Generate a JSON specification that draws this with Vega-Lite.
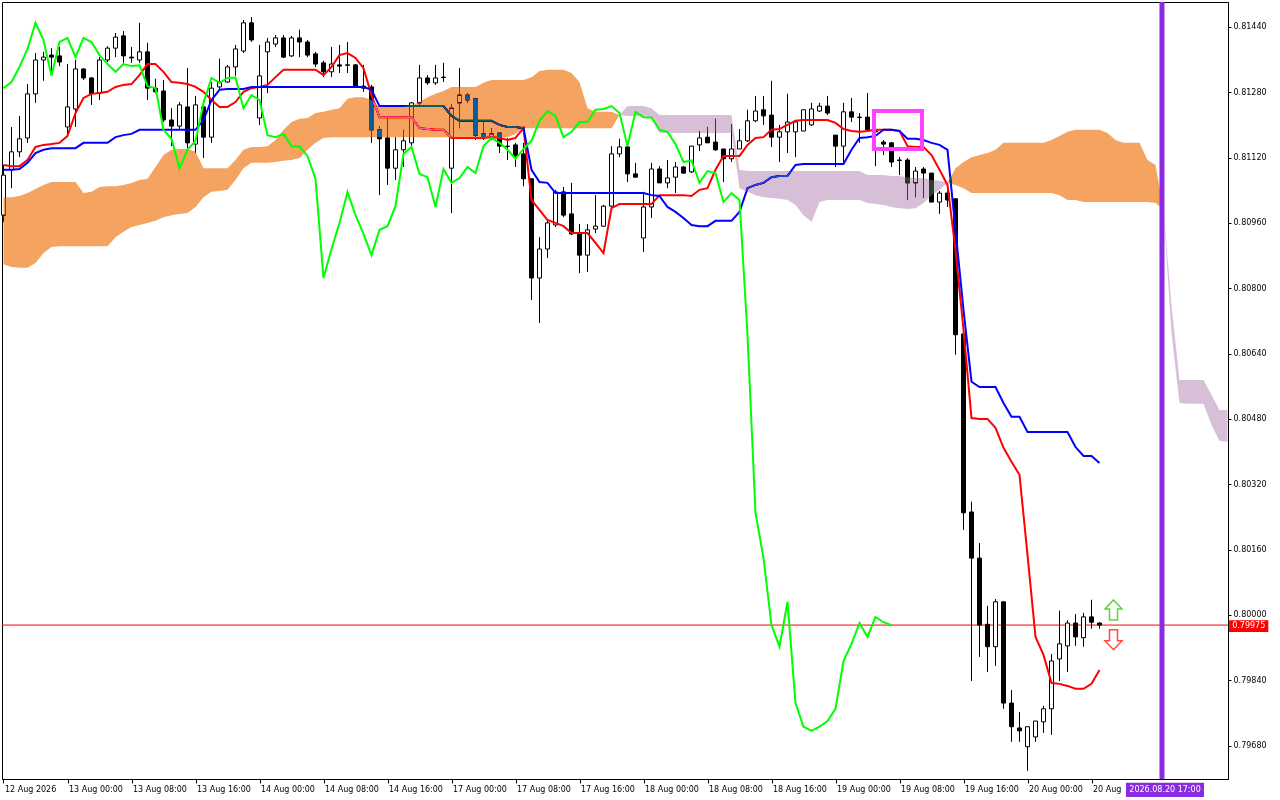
{
  "$schema": "https://vega.github.io/schema/vega-lite/v6.json",
  "width": 1226,
  "height": 777,
  "autosize": {"type": "none"},
  "padding": {"left": 2, "top": 2, "right": 52, "bottom": 21},
  "background": "white",
  "config": {
    "view": {"stroke": "black", "strokeWidth": 1, "fill": "white"},
    "axis": {
      "labelFont": "DejaVu Sans",
      "labelFontSize": 8,
      "labelColor": "black",
      "domainColor": "black",
      "tickColor": "black",
      "grid": false
    }
  },
  "datasets": {
    "bars": [
      {"t":0,"o":0.80979,"h":0.81102,"l":0.80962,"c":0.81077,"tk":0.81102,"kj":0.8109,"ch":0.8129},
      {"t":1,"o":0.8109,"h":0.81195,"l":0.81045,"c":0.81134,"tk":0.81099,"kj":0.8109,"ch":0.81305},
      {"t":2,"o":0.81134,"h":0.81222,"l":0.81121,"c":0.81166,"tk":0.81099,"kj":0.81092,"ch":0.81342},
      {"t":3,"o":0.81168,"h":0.813,"l":0.81156,"c":0.81276,"tk":0.81114,"kj":0.81107,"ch":0.81386},
      {"t":4,"o":0.81276,"h":0.81376,"l":0.81254,"c":0.81359,"tk":0.81146,"kj":0.81131,"ch":0.8145},
      {"t":5,"o":0.81359,"h":0.81379,"l":0.81308,"c":0.81366,"tk":0.81151,"kj":0.81139,"ch":0.81408},
      {"t":6,"o":0.81371,"h":0.81388,"l":0.81322,"c":0.81366,"tk":0.81153,"kj":0.81143,"ch":0.8132},
      {"t":7,"o":0.81369,"h":0.81391,"l":0.81344,"c":0.81354,"tk":0.81156,"kj":0.81143,"ch":0.81403},
      {"t":8,"o":0.81195,"h":0.81349,"l":0.8117,"c":0.81244,"tk":0.81173,"kj":0.81143,"ch":0.81413},
      {"t":9,"o":0.81239,"h":0.81359,"l":0.81195,"c":0.81337,"tk":0.81229,"kj":0.81143,"ch":0.81366},
      {"t":10,"o":0.81337,"h":0.81339,"l":0.8131,"c":0.81315,"tk":0.81266,"kj":0.81156,"ch":0.81413},
      {"t":11,"o":0.81315,"h":0.81317,"l":0.81249,"c":0.81276,"tk":0.81276,"kj":0.81156,"ch":0.81403},
      {"t":12,"o":0.81278,"h":0.81366,"l":0.81261,"c":0.81359,"tk":0.81278,"kj":0.81156,"ch":0.81371},
      {"t":13,"o":0.81359,"h":0.81393,"l":0.81354,"c":0.81388,"tk":0.81281,"kj":0.81156,"ch":0.81349},
      {"t":14,"o":0.81388,"h":0.81425,"l":0.81366,"c":0.81415,"tk":0.81293,"kj":0.8117,"ch":0.8133},
      {"t":15,"o":0.81418,"h":0.8143,"l":0.81352,"c":0.81369,"tk":0.81298,"kj":0.81175,"ch":0.81349},
      {"t":16,"o":0.81366,"h":0.81391,"l":0.81352,"c":0.81364,"tk":0.813,"kj":0.81178,"ch":0.81344},
      {"t":17,"o":0.81359,"h":0.8145,"l":0.81352,"c":0.81379,"tk":0.81322,"kj":0.81188,"ch":0.81346},
      {"t":18,"o":0.81379,"h":0.81401,"l":0.81261,"c":0.8129,"tk":0.81349,"kj":0.81188,"ch":0.81295},
      {"t":19,"o":0.8129,"h":0.81313,"l":0.81278,"c":0.81281,"tk":0.81349,"kj":0.81188,"ch":0.8129},
      {"t":20,"o":0.81283,"h":0.8131,"l":0.81207,"c":0.81212,"tk":0.8133,"kj":0.81188,"ch":0.81188},
      {"t":21,"o":0.81212,"h":0.81241,"l":0.81148,"c":0.81197,"tk":0.81305,"kj":0.81188,"ch":0.81166},
      {"t":22,"o":0.81197,"h":0.81256,"l":0.8119,"c":0.81249,"tk":0.81303,"kj":0.81188,"ch":0.81094},
      {"t":23,"o":0.81244,"h":0.81339,"l":0.81143,"c":0.81156,"tk":0.813,"kj":0.81188,"ch":0.81139},
      {"t":24,"o":0.81153,"h":0.81271,"l":0.81131,"c":0.81249,"tk":0.81293,"kj":0.81188,"ch":0.81161},
      {"t":25,"o":0.81244,"h":0.81261,"l":0.81119,"c":0.8117,"tk":0.81281,"kj":0.81212,"ch":0.81254},
      {"t":26,"o":0.8117,"h":0.81305,"l":0.81156,"c":0.8129,"tk":0.81261,"kj":0.81261,"ch":0.81315},
      {"t":27,"o":0.81293,"h":0.81362,"l":0.81286,"c":0.81305,"tk":0.81244,"kj":0.81286,"ch":0.81303},
      {"t":28,"o":0.81305,"h":0.81347,"l":0.81303,"c":0.81342,"tk":0.81244,"kj":0.81288,"ch":0.81315},
      {"t":29,"o":0.81342,"h":0.81396,"l":0.8132,"c":0.81386,"tk":0.81256,"kj":0.81288,"ch":0.81316},
      {"t":30,"o":0.81381,"h":0.81457,"l":0.81376,"c":0.8145,"tk":0.81281,"kj":0.81288,"ch":0.81241},
      {"t":31,"o":0.8145,"h":0.81464,"l":0.81403,"c":0.81408,"tk":0.8129,"kj":0.81293,"ch":0.81273},
      {"t":32,"o":0.81217,"h":0.81396,"l":0.812,"c":0.8132,"tk":0.81293,"kj":0.81293,"ch":0.81261},
      {"t":33,"o":0.81379,"h":0.81413,"l":0.81278,"c":0.81403,"tk":0.81298,"kj":0.81293,"ch":0.81175},
      {"t":34,"o":0.81398,"h":0.8142,"l":0.81391,"c":0.81413,"tk":0.81317,"kj":0.81293,"ch":0.8117},
      {"t":35,"o":0.81413,"h":0.8142,"l":0.81364,"c":0.81366,"tk":0.81335,"kj":0.81293,"ch":0.81178},
      {"t":36,"o":0.81369,"h":0.81418,"l":0.81366,"c":0.81413,"tk":0.81335,"kj":0.81293,"ch":0.81148},
      {"t":37,"o":0.81413,"h":0.81433,"l":0.81366,"c":0.81403,"tk":0.81335,"kj":0.81293,"ch":0.81147},
      {"t":38,"o":0.81403,"h":0.81408,"l":0.81366,"c":0.81371,"tk":0.81335,"kj":0.81293,"ch":0.81124},
      {"t":39,"o":0.81374,"h":0.81379,"l":0.81342,"c":0.81349,"tk":0.81335,"kj":0.81293,"ch":0.81068},
      {"t":40,"o":0.81352,"h":0.81357,"l":0.81317,"c":0.8133,"tk":0.81322,"kj":0.81293,"ch":0.80825},
      {"t":41,"o":0.8133,"h":0.81391,"l":0.81317,"c":0.81349,"tk":0.81342,"kj":0.81293,"ch":0.80896},
      {"t":42,"o":0.81347,"h":0.81396,"l":0.81327,"c":0.81344,"tk":0.81371,"kj":0.81293,"ch":0.8096},
      {"t":43,"o":0.81347,"h":0.81403,"l":0.81327,"c":0.81346,"tk":0.81376,"kj":0.81293,"ch":0.81036},
      {"t":44,"o":0.81347,"h":0.81349,"l":0.81293,"c":0.81295,"tk":0.81364,"kj":0.81293,"ch":0.80979},
      {"t":45,"o":0.81295,"h":0.81347,"l":0.81281,"c":0.8129,"tk":0.81339,"kj":0.81293,"ch":0.80933},
      {"t":46,"o":0.81293,"h":0.81298,"l":0.81156,"c":0.81188,"tk":0.81273,"kj":0.81286,"ch":0.80881},
      {"t":47,"o":0.81188,"h":0.81197,"l":0.81028,"c":0.81166,"tk":0.81219,"kj":0.81246,"ch":0.80943},
      {"t":48,"o":0.81168,"h":0.81217,"l":0.81053,"c":0.81094,"tk":0.81219,"kj":0.81246,"ch":0.80952},
      {"t":49,"o":0.81094,"h":0.8117,"l":0.81065,"c":0.81139,"tk":0.81219,"kj":0.81246,"ch":0.81001},
      {"t":50,"o":0.81139,"h":0.81188,"l":0.81097,"c":0.81161,"tk":0.81219,"kj":0.81246,"ch":0.81129},
      {"t":51,"o":0.81156,"h":0.81256,"l":0.81146,"c":0.81254,"tk":0.81219,"kj":0.81246,"ch":0.81146},
      {"t":52,"o":0.81254,"h":0.81347,"l":0.81249,"c":0.81315,"tk":0.81192,"kj":0.81246,"ch":0.8108},
      {"t":53,"o":0.81315,"h":0.81322,"l":0.81298,"c":0.81303,"tk":0.8119,"kj":0.81246,"ch":0.81072},
      {"t":54,"o":0.81303,"h":0.81347,"l":0.81298,"c":0.81315,"tk":0.81188,"kj":0.81246,"ch":0.80999},
      {"t":55,"o":0.81317,"h":0.81352,"l":0.81305,"c":0.81316,"tk":0.81188,"kj":0.81246,"ch":0.81092},
      {"t":56,"o":0.81094,"h":0.81251,"l":0.80984,"c":0.81241,"tk":0.81168,"kj":0.81222,"ch":0.81058},
      {"t":57,"o":0.81254,"h":0.81339,"l":0.81192,"c":0.81273,"tk":0.81168,"kj":0.8121,"ch":0.8107},
      {"t":58,"o":0.81273,"h":0.81278,"l":0.81254,"c":0.81261,"tk":0.81168,"kj":0.8121,"ch":0.81097},
      {"t":59,"o":0.81264,"h":0.81264,"l":0.81163,"c":0.81175,"tk":0.81168,"kj":0.8121,"ch":0.81082},
      {"t":60,"o":0.81178,"h":0.81212,"l":0.81163,"c":0.8117,"tk":0.81168,"kj":0.8121,"ch":0.81148},
      {"t":61,"o":0.8117,"h":0.81192,"l":0.81163,"c":0.81178,"tk":0.8117,"kj":0.8121,"ch":0.81168},
      {"t":62,"o":0.8118,"h":0.8118,"l":0.81131,"c":0.81148,"tk":0.81168,"kj":0.812,"ch":0.81156},
      {"t":63,"o":0.81148,"h":0.81168,"l":0.81114,"c":0.81147,"tk":0.81163,"kj":0.81195,"ch":0.81139},
      {"t":64,"o":0.81151,"h":0.81156,"l":0.81097,"c":0.81124,"tk":0.81168,"kj":0.81195,"ch":0.81117},
      {"t":65,"o":0.81129,"h":0.81156,"l":0.8105,"c":0.81068,"tk":0.81192,"kj":0.81192,"ch":0.81141},
      {"t":66,"o":0.81068,"h":0.81068,"l":0.80771,"c":0.80825,"tk":0.81016,"kj":0.8109,"ch":0.81161},
      {"t":67,"o":0.80825,"h":0.80925,"l":0.80715,"c":0.80896,"tk":0.80992,"kj":0.8106,"ch":0.8121},
      {"t":68,"o":0.80896,"h":0.8097,"l":0.80874,"c":0.8096,"tk":0.80967,"kj":0.81058,"ch":0.81234},
      {"t":69,"o":0.80955,"h":0.81041,"l":0.8095,"c":0.81036,"tk":0.8096,"kj":0.81033,"ch":0.81222},
      {"t":70,"o":0.81036,"h":0.81048,"l":0.80974,"c":0.80979,"tk":0.80952,"kj":0.81033,"ch":0.8117},
      {"t":71,"o":0.80982,"h":0.81058,"l":0.8093,"c":0.80933,"tk":0.80935,"kj":0.81033,"ch":0.81183},
      {"t":72,"o":0.80935,"h":0.80957,"l":0.80837,"c":0.80881,"tk":0.80935,"kj":0.81033,"ch":0.81207},
      {"t":73,"o":0.80881,"h":0.80957,"l":0.8084,"c":0.80943,"tk":0.80935,"kj":0.81033,"ch":0.81207},
      {"t":74,"o":0.80945,"h":0.81028,"l":0.80935,"c":0.80952,"tk":0.80911,"kj":0.81033,"ch":0.81237},
      {"t":75,"o":0.80952,"h":0.81004,"l":0.8095,"c":0.81001,"tk":0.80886,"kj":0.81033,"ch":0.81239},
      {"t":76,"o":0.81001,"h":0.81148,"l":0.80999,"c":0.81129,"tk":0.80996,"kj":0.81033,"ch":0.81246},
      {"t":77,"o":0.81129,"h":0.81166,"l":0.81121,"c":0.81146,"tk":0.81006,"kj":0.81033,"ch":0.81229},
      {"t":78,"o":0.81146,"h":0.81148,"l":0.8106,"c":0.8108,"tk":0.81006,"kj":0.81033,"ch":0.81148},
      {"t":79,"o":0.8108,"h":0.81107,"l":0.81072,"c":0.81072,"tk":0.81006,"kj":0.81033,"ch":0.81232},
      {"t":80,"o":0.80923,"h":0.81036,"l":0.80889,"c":0.80999,"tk":0.81006,"kj":0.81033,"ch":0.81219},
      {"t":81,"o":0.80999,"h":0.81107,"l":0.80972,"c":0.81092,"tk":0.81006,"kj":0.81028,"ch":0.81218},
      {"t":82,"o":0.81092,"h":0.81099,"l":0.81058,"c":0.81058,"tk":0.81028,"kj":0.81026,"ch":0.81188},
      {"t":83,"o":0.81058,"h":0.81114,"l":0.81045,"c":0.8107,"tk":0.81028,"kj":0.80999,"ch":0.81183},
      {"t":84,"o":0.81072,"h":0.81109,"l":0.81033,"c":0.81097,"tk":0.81028,"kj":0.80987,"ch":0.81153},
      {"t":85,"o":0.81097,"h":0.81099,"l":0.8108,"c":0.81082,"tk":0.81028,"kj":0.80972,"ch":0.81109},
      {"t":86,"o":0.81085,"h":0.81148,"l":0.81082,"c":0.81148,"tk":0.81026,"kj":0.80955,"ch":0.81113},
      {"t":87,"o":0.81151,"h":0.81185,"l":0.81136,"c":0.81168,"tk":0.81041,"kj":0.80952,"ch":0.81058},
      {"t":88,"o":0.8117,"h":0.81195,"l":0.81156,"c":0.81156,"tk":0.81045,"kj":0.80952,"ch":0.81087},
      {"t":89,"o":0.81158,"h":0.81215,"l":0.81136,"c":0.81139,"tk":0.8109,"kj":0.80965,"ch":0.81082},
      {"t":90,"o":0.81141,"h":0.81141,"l":0.8106,"c":0.81117,"tk":0.81124,"kj":0.80965,"ch":0.81011},
      {"t":91,"o":0.81117,"h":0.81202,"l":0.81109,"c":0.81141,"tk":0.81124,"kj":0.80965,"ch":0.81033},
      {"t":92,"o":0.81141,"h":0.8119,"l":0.81141,"c":0.81161,"tk":0.81124,"kj":0.80987,"ch":0.81016},
      {"t":93,"o":0.81161,"h":0.81237,"l":0.81158,"c":0.8121,"tk":0.81151,"kj":0.81045,"ch":0.80686},
      {"t":94,"o":0.8121,"h":0.81271,"l":0.81207,"c":0.81234,"tk":0.81168,"kj":0.81053,"ch":0.8025},
      {"t":95,"o":0.81237,"h":0.81271,"l":0.812,"c":0.81222,"tk":0.8117,"kj":0.81058,"ch":0.80139},
      {"t":96,"o":0.81224,"h":0.81308,"l":0.81146,"c":0.8117,"tk":0.81188,"kj":0.81072,"ch":0.79975},
      {"t":97,"o":0.8117,"h":0.812,"l":0.81109,"c":0.81183,"tk":0.8119,"kj":0.81075,"ch":0.79922},
      {"t":98,"o":0.81183,"h":0.81276,"l":0.81131,"c":0.81207,"tk":0.812,"kj":0.81075,"ch":0.80032},
      {"t":99,"o":0.81183,"h":0.81212,"l":0.81121,"c":0.81207,"tk":0.8121,"kj":0.81102,"ch":0.79784},
      {"t":100,"o":0.81185,"h":0.81237,"l":0.81185,"c":0.81237,"tk":0.81212,"kj":0.81104,"ch":0.79726},
      {"t":101,"o":0.812,"h":0.81254,"l":0.81197,"c":0.81239,"tk":0.81212,"kj":0.81104,"ch":0.79716},
      {"t":102,"o":0.81234,"h":0.81254,"l":0.81232,"c":0.81246,"tk":0.81212,"kj":0.81104,"ch":0.79726},
      {"t":103,"o":0.81246,"h":0.81271,"l":0.81224,"c":0.81229,"tk":0.81212,"kj":0.81104,"ch":0.7974},
      {"t":104,"o":0.81175,"h":0.81175,"l":0.81097,"c":0.81148,"tk":0.81205,"kj":0.81104,"ch":0.7977},
      {"t":105,"o":0.81148,"h":0.81254,"l":0.81102,"c":0.81232,"tk":0.8119,"kj":0.81104,"ch":0.79887},
      {"t":106,"o":0.81232,"h":0.81266,"l":0.81207,"c":0.81219,"tk":0.81185,"kj":0.81139,"ch":0.79929},
      {"t":107,"o":0.81219,"h":0.81229,"l":0.81156,"c":0.81218,"tk":0.81183,"kj":0.81168,"ch":0.7998},
      {"t":108,"o":0.81219,"h":0.81278,"l":0.81188,"c":0.81188,"tk":0.81185,"kj":0.8117,"ch":0.79946},
      {"t":109,"o":0.81185,"h":0.81188,"l":0.81099,"c":0.81183,"tk":0.81188,"kj":0.81173,"ch":0.79995},
      {"t":110,"o":0.81158,"h":0.81163,"l":0.81126,"c":0.81153,"tk":0.81188,"kj":0.81188,"ch":0.79982},
      {"t":111,"o":0.81156,"h":0.81158,"l":0.81097,"c":0.81109,"tk":0.81188,"kj":0.81188,"ch":0.79975},
      {"t":112,"o":0.81114,"h":0.81121,"l":0.81077,"c":0.81113,"tk":0.81185,"kj":0.81185},
      {"t":113,"o":0.81114,"h":0.81119,"l":0.81016,"c":0.81058,"tk":0.81148,"kj":0.81166},
      {"t":114,"o":0.81058,"h":0.81097,"l":0.81023,"c":0.81087,"tk":0.81146,"kj":0.81166},
      {"t":115,"o":0.81092,"h":0.81097,"l":0.81021,"c":0.81082,"tk":0.81146,"kj":0.81163},
      {"t":116,"o":0.81082,"h":0.81082,"l":0.81011,"c":0.81011,"tk":0.81126,"kj":0.81156},
      {"t":117,"o":0.81011,"h":0.81038,"l":0.80982,"c":0.81033,"tk":0.8109,"kj":0.81151},
      {"t":118,"o":0.81033,"h":0.81041,"l":0.80999,"c":0.81016,"tk":0.81053,"kj":0.81139},
      {"t":119,"o":0.81019,"h":0.81019,"l":0.80637,"c":0.80686,"tk":0.80894,"kj":0.80943},
      {"t":120,"o":0.80688,"h":0.80688,"l":0.80208,"c":0.8025,"tk":0.80698,"kj":0.80747},
      {"t":121,"o":0.80252,"h":0.80277,"l":0.79838,"c":0.80139,"tk":0.80482,"kj":0.80571},
      {"t":122,"o":0.80139,"h":0.80176,"l":0.79897,"c":0.79975,"tk":0.8048,"kj":0.80558},
      {"t":123,"o":0.79977,"h":0.80022,"l":0.7986,"c":0.79922,"tk":0.8048,"kj":0.80558},
      {"t":124,"o":0.79922,"h":0.80039,"l":0.79875,"c":0.80032,"tk":0.80458,"kj":0.80558},
      {"t":125,"o":0.80032,"h":0.80032,"l":0.7977,"c":0.79784,"tk":0.80409,"kj":0.80519},
      {"t":126,"o":0.79784,"h":0.79816,"l":0.79689,"c":0.79726,"tk":0.80375,"kj":0.80485},
      {"t":127,"o":0.79723,"h":0.79762,"l":0.79689,"c":0.79716,"tk":0.80343,"kj":0.80485},
      {"t":128,"o":0.79677,"h":0.79726,"l":0.79618,"c":0.79726,"tk":0.80147,"kj":0.80448},
      {"t":129,"o":0.79701,"h":0.7974,"l":0.79689,"c":0.7974,"tk":0.79946,"kj":0.80448},
      {"t":130,"o":0.79738,"h":0.79777,"l":0.79711,"c":0.7977,"tk":0.79902,"kj":0.80448},
      {"t":131,"o":0.7977,"h":0.79904,"l":0.79706,"c":0.79887,"tk":0.79833,"kj":0.80448},
      {"t":132,"o":0.79892,"h":0.8001,"l":0.79838,"c":0.79929,"tk":0.79831,"kj":0.80448},
      {"t":133,"o":0.79924,"h":0.79987,"l":0.7986,"c":0.7998,"tk":0.79826,"kj":0.80448},
      {"t":134,"o":0.7998,"h":0.80002,"l":0.79924,"c":0.79946,"tk":0.79819,"kj":0.80411},
      {"t":135,"o":0.79944,"h":0.80005,"l":0.79922,"c":0.79995,"tk":0.79819,"kj":0.80389},
      {"t":136,"o":0.79995,"h":0.80037,"l":0.79966,"c":0.79982,"tk":0.79831,"kj":0.80389},
      {"t":137,"o":0.7998,"h":0.79982,"l":0.79966,"c":0.79975,"tk":0.79865,"kj":0.80372}
    ],
    "cloud": [
      {"t":0,"a":0.81023,"b":0.80859,"seg":"u1"},
      {"t":1,"a":0.81023,"b":0.80852,"seg":"u1"},
      {"t":2,"a":0.81026,"b":0.8085,"seg":"u1"},
      {"t":3,"a":0.81033,"b":0.8085,"seg":"u1"},
      {"t":4,"a":0.81043,"b":0.80862,"seg":"u1"},
      {"t":5,"a":0.81053,"b":0.80886,"seg":"u1"},
      {"t":6,"a":0.8106,"b":0.80901,"seg":"u1"},
      {"t":7,"a":0.8106,"b":0.80903,"seg":"u1"},
      {"t":8,"a":0.8106,"b":0.80903,"seg":"u1"},
      {"t":9,"a":0.8106,"b":0.80903,"seg":"u1"},
      {"t":10,"a":0.81033,"b":0.80903,"seg":"u1"},
      {"t":11,"a":0.81036,"b":0.80903,"seg":"u1"},
      {"t":12,"a":0.81048,"b":0.80903,"seg":"u1"},
      {"t":13,"a":0.8105,"b":0.80903,"seg":"u1"},
      {"t":14,"a":0.8105,"b":0.80925,"seg":"u1"},
      {"t":15,"a":0.81053,"b":0.80938,"seg":"u1"},
      {"t":16,"a":0.81058,"b":0.8095,"seg":"u1"},
      {"t":17,"a":0.81065,"b":0.80955,"seg":"u1"},
      {"t":18,"a":0.81068,"b":0.8096,"seg":"u1"},
      {"t":19,"a":0.81097,"b":0.80965,"seg":"u1"},
      {"t":20,"a":0.81126,"b":0.80974,"seg":"u1"},
      {"t":21,"a":0.81139,"b":0.80979,"seg":"u1"},
      {"t":22,"a":0.81141,"b":0.80982,"seg":"u1"},
      {"t":23,"a":0.81141,"b":0.80984,"seg":"u1"},
      {"t":24,"a":0.81134,"b":0.80999,"seg":"u1"},
      {"t":25,"a":0.81094,"b":0.81023,"seg":"u1"},
      {"t":26,"a":0.81094,"b":0.81036,"seg":"u1"},
      {"t":27,"a":0.81094,"b":0.81038,"seg":"u1"},
      {"t":28,"a":0.81094,"b":0.81041,"seg":"u1"},
      {"t":29,"a":0.81114,"b":0.81065,"seg":"u1"},
      {"t":30,"a":0.81139,"b":0.81094,"seg":"u1"},
      {"t":31,"a":0.81146,"b":0.81107,"seg":"u1"},
      {"t":32,"a":0.81146,"b":0.81107,"seg":"u1"},
      {"t":33,"a":0.81148,"b":0.81107,"seg":"u1"},
      {"t":34,"a":0.81163,"b":0.81109,"seg":"u1"},
      {"t":35,"a":0.81188,"b":0.81112,"seg":"u1"},
      {"t":36,"a":0.81207,"b":0.81114,"seg":"u1"},
      {"t":37,"a":0.81215,"b":0.81119,"seg":"u1"},
      {"t":38,"a":0.81217,"b":0.81139,"seg":"u1"},
      {"t":39,"a":0.81229,"b":0.81156,"seg":"u1"},
      {"t":40,"a":0.81232,"b":0.81168,"seg":"u1"},
      {"t":41,"a":0.81237,"b":0.8117,"seg":"u1"},
      {"t":42,"a":0.81241,"b":0.8117,"seg":"u1"},
      {"t":43,"a":0.81264,"b":0.8117,"seg":"u1"},
      {"t":44,"a":0.81268,"b":0.8117,"seg":"u1"},
      {"t":45,"a":0.81268,"b":0.8117,"seg":"u1"},
      {"t":46,"a":0.81261,"b":0.8117,"seg":"u1"},
      {"t":47,"a":0.81244,"b":0.8117,"seg":"u1"},
      {"t":48,"a":0.81244,"b":0.8117,"seg":"u1"},
      {"t":49,"a":0.81244,"b":0.8117,"seg":"u1"},
      {"t":50,"a":0.81244,"b":0.8117,"seg":"u1"},
      {"t":51,"a":0.81249,"b":0.8117,"seg":"u1"},
      {"t":52,"a":0.81256,"b":0.8117,"seg":"u1"},
      {"t":53,"a":0.81268,"b":0.8117,"seg":"u1"},
      {"t":54,"a":0.81276,"b":0.8117,"seg":"u1"},
      {"t":55,"a":0.81283,"b":0.8117,"seg":"u1"},
      {"t":56,"a":0.81293,"b":0.8117,"seg":"u1"},
      {"t":57,"a":0.81293,"b":0.8117,"seg":"u1"},
      {"t":58,"a":0.81293,"b":0.8117,"seg":"u1"},
      {"t":59,"a":0.81293,"b":0.8117,"seg":"u1"},
      {"t":60,"a":0.81303,"b":0.8117,"seg":"u1"},
      {"t":61,"a":0.8131,"b":0.8117,"seg":"u1"},
      {"t":62,"a":0.8131,"b":0.8117,"seg":"u1"},
      {"t":63,"a":0.8131,"b":0.8117,"seg":"u1"},
      {"t":64,"a":0.8131,"b":0.81178,"seg":"u1"},
      {"t":65,"a":0.8131,"b":0.81192,"seg":"u1"},
      {"t":66,"a":0.81317,"b":0.81192,"seg":"u1"},
      {"t":67,"a":0.81332,"b":0.81192,"seg":"u1"},
      {"t":68,"a":0.81335,"b":0.81192,"seg":"u1"},
      {"t":69,"a":0.81335,"b":0.81192,"seg":"u1"},
      {"t":70,"a":0.81335,"b":0.81192,"seg":"u1"},
      {"t":71,"a":0.81327,"b":0.81192,"seg":"u1"},
      {"t":72,"a":0.81305,"b":0.81192,"seg":"u1"},
      {"t":73,"a":0.81241,"b":0.81192,"seg":"u1"},
      {"t":74,"a":0.81232,"b":0.81192,"seg":"u1"},
      {"t":75,"a":0.81232,"b":0.81192,"seg":"u1"},
      {"t":76,"a":0.81232,"b":0.81192,"seg":"u1"},
      {"t":77,"a":0.81224,"b":0.81224,"seg":"u1"},
      {"t":77,"a":0.81224,"b":0.81224,"seg":"d1"},
      {"t":78,"a":0.81222,"b":0.81246,"seg":"d1"},
      {"t":79,"a":0.81222,"b":0.81246,"seg":"d1"},
      {"t":80,"a":0.81222,"b":0.81246,"seg":"d1"},
      {"t":81,"a":0.81219,"b":0.81241,"seg":"d1"},
      {"t":82,"a":0.8118,"b":0.81224,"seg":"d1"},
      {"t":83,"a":0.8118,"b":0.81224,"seg":"d1"},
      {"t":84,"a":0.8118,"b":0.81224,"seg":"d1"},
      {"t":85,"a":0.8118,"b":0.81224,"seg":"d1"},
      {"t":86,"a":0.8118,"b":0.81224,"seg":"d1"},
      {"t":87,"a":0.8118,"b":0.81224,"seg":"d1"},
      {"t":88,"a":0.8118,"b":0.81224,"seg":"d1"},
      {"t":89,"a":0.8118,"b":0.81224,"seg":"d1"},
      {"t":90,"a":0.8118,"b":0.81224,"seg":"d1"},
      {"t":91,"a":0.8118,"b":0.81224,"seg":"d1"},
      {"t":92,"a":0.81045,"b":0.8109,"seg":"d1"},
      {"t":93,"a":0.81036,"b":0.81087,"seg":"d1"},
      {"t":94,"a":0.81028,"b":0.81087,"seg":"d1"},
      {"t":95,"a":0.81023,"b":0.81087,"seg":"d1"},
      {"t":96,"a":0.81021,"b":0.81087,"seg":"d1"},
      {"t":97,"a":0.81019,"b":0.81087,"seg":"d1"},
      {"t":98,"a":0.81016,"b":0.81087,"seg":"d1"},
      {"t":99,"a":0.81004,"b":0.81087,"seg":"d1"},
      {"t":100,"a":0.80979,"b":0.81087,"seg":"d1"},
      {"t":101,"a":0.80962,"b":0.81087,"seg":"d1"},
      {"t":102,"a":0.81011,"b":0.81087,"seg":"d1"},
      {"t":103,"a":0.81016,"b":0.81087,"seg":"d1"},
      {"t":104,"a":0.81016,"b":0.81087,"seg":"d1"},
      {"t":105,"a":0.81016,"b":0.81087,"seg":"d1"},
      {"t":106,"a":0.81016,"b":0.81087,"seg":"d1"},
      {"t":107,"a":0.81016,"b":0.81087,"seg":"d1"},
      {"t":108,"a":0.81009,"b":0.81077,"seg":"d1"},
      {"t":109,"a":0.81006,"b":0.81077,"seg":"d1"},
      {"t":110,"a":0.81004,"b":0.81077,"seg":"d1"},
      {"t":111,"a":0.80999,"b":0.81075,"seg":"d1"},
      {"t":112,"a":0.80996,"b":0.81075,"seg":"d1"},
      {"t":113,"a":0.80994,"b":0.81072,"seg":"d1"},
      {"t":114,"a":0.80996,"b":0.8107,"seg":"d1"},
      {"t":115,"a":0.81009,"b":0.8107,"seg":"d1"},
      {"t":116,"a":0.81028,"b":0.81065,"seg":"d1"},
      {"t":117,"a":0.81041,"b":0.81063,"seg":"d1"},
      {"t":118,"a":0.81058,"b":0.81058,"seg":"d1"},
      {"t":118,"a":0.81058,"b":0.81058,"seg":"u2"},
      {"t":119,"a":0.81094,"b":0.81053,"seg":"u2"},
      {"t":120,"a":0.81109,"b":0.81045,"seg":"u2"},
      {"t":121,"a":0.81121,"b":0.81033,"seg":"u2"},
      {"t":122,"a":0.81126,"b":0.81033,"seg":"u2"},
      {"t":123,"a":0.81131,"b":0.81033,"seg":"u2"},
      {"t":124,"a":0.81139,"b":0.81033,"seg":"u2"},
      {"t":125,"a":0.81156,"b":0.81033,"seg":"u2"},
      {"t":126,"a":0.81156,"b":0.81033,"seg":"u2"},
      {"t":127,"a":0.81156,"b":0.81033,"seg":"u2"},
      {"t":128,"a":0.81156,"b":0.81033,"seg":"u2"},
      {"t":129,"a":0.81156,"b":0.81033,"seg":"u2"},
      {"t":130,"a":0.81156,"b":0.81033,"seg":"u2"},
      {"t":131,"a":0.81163,"b":0.81033,"seg":"u2"},
      {"t":132,"a":0.81173,"b":0.81028,"seg":"u2"},
      {"t":133,"a":0.81183,"b":0.81016,"seg":"u2"},
      {"t":134,"a":0.81188,"b":0.81016,"seg":"u2"},
      {"t":135,"a":0.81188,"b":0.81011,"seg":"u2"},
      {"t":136,"a":0.81188,"b":0.81011,"seg":"u2"},
      {"t":137,"a":0.81188,"b":0.81011,"seg":"u2"},
      {"t":138,"a":0.8118,"b":0.81011,"seg":"u2"},
      {"t":139,"a":0.81163,"b":0.81011,"seg":"u2"},
      {"t":140,"a":0.81156,"b":0.81011,"seg":"u2"},
      {"t":141,"a":0.81156,"b":0.81011,"seg":"u2"},
      {"t":142,"a":0.81156,"b":0.81011,"seg":"u2"},
      {"t":143,"a":0.81114,"b":0.81011,"seg":"u2"},
      {"t":144,"a":0.81102,"b":0.81009,"seg":"u2"},
      {"t":145,"a":0.80992,"b":0.80992,"seg":"u2"},
      {"t":145,"a":0.80992,"b":0.80992,"seg":"d2"},
      {"t":146,"a":0.8069,"b":0.80759,"seg":"d2"},
      {"t":147,"a":0.80519,"b":0.80575,"seg":"d2"},
      {"t":148,"a":0.80517,"b":0.80575,"seg":"d2"},
      {"t":149,"a":0.80517,"b":0.80575,"seg":"d2"},
      {"t":150,"a":0.80517,"b":0.80575,"seg":"d2"},
      {"t":151,"a":0.80465,"b":0.80539,"seg":"d2"},
      {"t":152,"a":0.80426,"b":0.80502,"seg":"d2"},
      {"t":153,"a":0.80424,"b":0.80502,"seg":"d2"}
    ],
    "bid": [{"price": 0.79975}],
    "box": [{"t1": 108.81, "t2": 114.81, "p1": 0.81234, "p2": 0.81141}],
    "vline": [{"t": 144.81}],
    "arrows": [
      {"t": 138.75, "price": 0.80012, "dir": "up"},
      {"t": 138.75, "price": 0.79939, "dir": "down"}
    ],
    "tags": [
      {"kind": "bid", "t1": 153.2, "t2": 158.1, "p1": 0.79987, "p2": 0.79958, "tx": 155.65, "py": 0.79972, "label": "0.79975"},
      {"kind": "time", "t1": 140.31, "t2": 150.06, "p1": 0.79589, "p2": 0.79554, "tx": 145.19, "py": 0.79571, "label": "2026.08.20 17:00"}
    ]
  },
  "layer": [
    {
      "data": {"name": "bid"},
      "mark": {"type": "rule", "color": "#FF0000", "strokeWidth": 1},
      "encoding": {"y": {"field": "price", "type": "quantitative", "title": null}}
    },
    {
      "data": {"name": "bars"},
      "mark": {"type": "rule", "color": "black", "strokeWidth": 1},
      "encoding": {
        "x": {
          "field": "t",
          "type": "quantitative",
          "scale": {"domain": [-0.1875, 153.0625], "nice": false, "zero": false, "padding": 0},
          "axis": {
            "title": null,
            "orient": "bottom",
            "values": [0, 8, 16, 24, 32, 40, 48, 56, 64, 72, 80, 88, 96, 104, 112, 120, 128, 136],
            "labelExpr": "['12 Aug 2026','13 Aug 00:00','13 Aug 08:00','13 Aug 16:00','14 Aug 00:00','14 Aug 08:00','14 Aug 16:00','17 Aug 00:00','17 Aug 08:00','17 Aug 16:00','18 Aug 00:00','18 Aug 08:00','18 Aug 16:00','19 Aug 00:00','19 Aug 08:00','19 Aug 16:00','20 Aug 00:00','20 Aug'][round(datum.value / 8)]",
            "labelAlign": "left",
            "labelBaseline": "top",
            "labelPadding": 2,
            "labelOffset": 1,
            "tickSize": 4,
            "labelOverlap": false,
            "labelFlush": false,
            "labelBound": false
          }
        },
        "y": {
          "field": "l",
          "type": "quantitative",
          "scale": {"domain": [0.79598, 0.81501], "nice": false, "zero": false, "padding": 0},
          "axis": {
            "title": null,
            "orient": "right",
            "values": [0.7968, 0.7976, 0.7984, 0.7992, 0.8, 0.8008, 0.8016, 0.8024, 0.8032, 0.804, 0.8048, 0.8056, 0.8064, 0.8072, 0.808, 0.8088, 0.8096, 0.8104, 0.8112, 0.812, 0.8128, 0.8136, 0.8144],
            "format": ".5f",
            "tickSize": 3,
            "labelPadding": 2,
            "labelOverlap": false
          }
        },
        "y2": {"field": "h"}
      }
    },
    {
      "data": {"name": "bars"},
      "mark": {"type": "bar", "width": 4, "stroke": "black", "strokeWidth": 1},
      "encoding": {
        "x": {"field": "t", "type": "quantitative"},
        "y": {"field": "o", "type": "quantitative"},
        "y2": {"field": "c"},
        "fill": {"condition": {"test": "datum.c >= datum.o", "value": "white"}, "value": "black"}
      }
    },
    {
      "data": {"name": "bars"},
      "mark": {"type": "line", "color": "#FF0000", "strokeWidth": 2},
      "encoding": {
        "x": {"field": "t", "type": "quantitative"},
        "y": {"field": "tk", "type": "quantitative"}
      }
    },
    {
      "data": {"name": "bars"},
      "mark": {"type": "line", "color": "#0000FF", "strokeWidth": 2},
      "encoding": {
        "x": {"field": "t", "type": "quantitative"},
        "y": {"field": "kj", "type": "quantitative"}
      }
    },
    {
      "data": {"name": "cloud"},
      "mark": {"type": "area", "blend": "difference", "opacity": 1},
      "encoding": {
        "x": {"field": "t", "type": "quantitative"},
        "y": {"field": "a", "type": "quantitative"},
        "y2": {"field": "b"},
        "color": {
          "field": "seg",
          "type": "nominal",
          "scale": {"domain": ["u1", "d1", "u2", "d2"], "range": ["#0B5B9F", "#274027", "#0B5B9F", "#274027"]},
          "legend": null
        }
      }
    },
    {
      "data": {"name": "bars"},
      "mark": {"type": "line", "color": "#00FF00", "strokeWidth": 2},
      "encoding": {
        "x": {"field": "t", "type": "quantitative"},
        "y": {"field": "ch", "type": "quantitative"}
      }
    },
    {
      "data": {"name": "box"},
      "mark": {"type": "rect", "filled": false, "stroke": "#FF40FF", "strokeWidth": 4},
      "encoding": {
        "x": {"field": "t1", "type": "quantitative"},
        "x2": {"field": "t2"},
        "y": {"field": "p1", "type": "quantitative"},
        "y2": {"field": "p2"}
      }
    },
    {
      "data": {"name": "vline"},
      "mark": {"type": "rule", "color": "#8A2BE2", "strokeWidth": 5},
      "encoding": {"x": {"field": "t", "type": "quantitative"}}
    },
    {
      "data": {"name": "arrows"},
      "mark": {"type": "point", "filled": true, "fill": "white", "strokeWidth": 1.5, "size": 400, "opacity": 1},
      "encoding": {
        "x": {"field": "t", "type": "quantitative"},
        "y": {"field": "price", "type": "quantitative"},
        "shape": {
          "field": "dir",
          "type": "nominal",
          "scale": {
            "domain": ["up", "down"],
            "range": [
              "M0,-1L0.85,-0.1L0.4,-0.1L0.4,1L-0.4,1L-0.4,-0.1L-0.85,-0.1Z",
              "M0,1L0.85,0.1L0.4,0.1L0.4,-1L-0.4,-1L-0.4,0.1L-0.85,0.1Z"
            ]
          },
          "legend": null
        },
        "stroke": {
          "field": "dir",
          "type": "nominal",
          "scale": {"domain": ["up", "down"], "range": ["#5CD63A", "#FF4A3D"]},
          "legend": null
        }
      }
    },
    {
      "data": {"name": "tags"},
      "mark": {"type": "rect"},
      "encoding": {
        "x": {"field": "t1", "type": "quantitative"},
        "x2": {"field": "t2"},
        "y": {"field": "p1", "type": "quantitative"},
        "y2": {"field": "p2"},
        "fill": {
          "field": "kind",
          "type": "nominal",
          "scale": {"domain": ["bid", "time"], "range": ["#FF0000", "#8A2BE2"]},
          "legend": null
        }
      }
    },
    {
      "data": {"name": "tags"},
      "mark": {"type": "text", "color": "white", "font": "DejaVu Sans", "fontSize": 8, "align": "center", "baseline": "middle"},
      "encoding": {
        "x": {"field": "tx", "type": "quantitative"},
        "y": {"field": "py", "type": "quantitative"},
        "text": {"field": "label"}
      }
    }
  ]
}
